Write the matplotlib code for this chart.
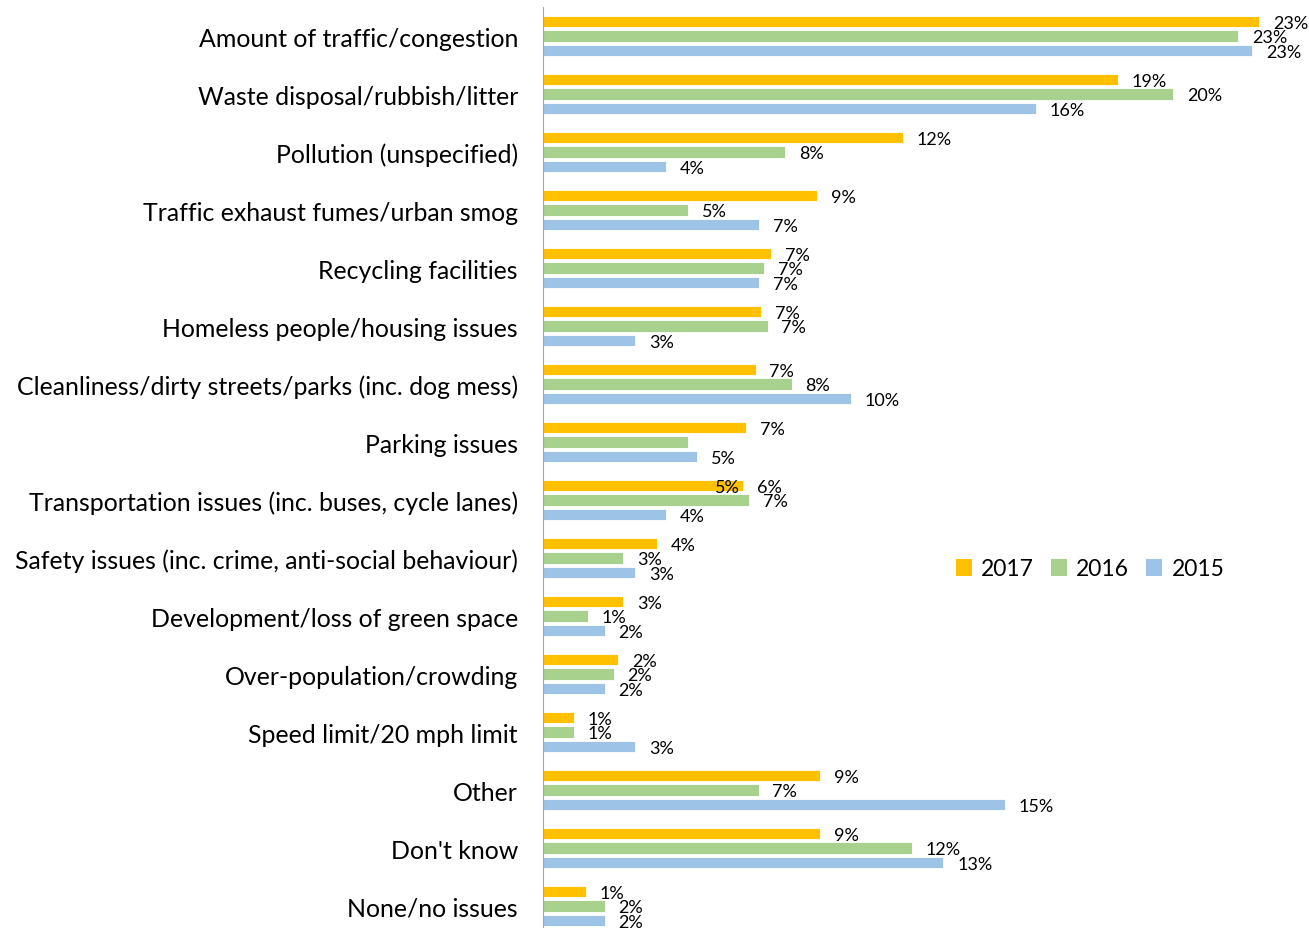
import numpy as np
import matplotlib.pyplot as plt
from matplotlib.patches import Patch

plt.rcParams['font.family'] = ['Lato', 'DejaVu Sans']

categories = [
    'Amount of traffic/congestion',
    'Waste disposal/rubbish/litter',
    'Pollution (unspecified)',
    'Traffic exhaust fumes/urban smog',
    'Recycling facilities',
    'Homeless people/housing issues',
    'Cleanliness/dirty streets/parks (inc. dog mess)',
    'Parking issues',
    'Transportation issues (inc. buses, cycle lanes)',
    'Safety issues (inc. crime, anti-social behaviour)',
    'Development/loss of green space',
    'Over-population/crowding',
    'Speed limit/20 mph limit',
    'Other',
    "Don't know",
    'None/no issues',
]
y2017 = [23.25, 18.67, 11.69, 8.9, 7.39, 7.09, 6.9, 6.59, 6.49, 3.7, 2.6, 2.45, 1.0, 8.99, 9.0, 1.4]
y2016 = [22.56, 20.45, 7.86, 4.71, 7.19, 7.29, 8.07, 4.71, 6.69, 2.6, 1.45, 2.29, 1.0, 7.0, 11.98, 2.0]
y2015 = [23.02, 16.0, 3.99, 7.01, 7.01, 3.0, 10.0, 5.0, 4.0, 3.0, 2.0, 2.0, 3.0, 15.0, 13.0, 2.0]

years = ['2017', '2016', '2015']
series = [y2017, y2016, y2015]
colors = ['#FFC000', '#A9D18E', '#9DC3E6']

fig = plt.figure(figsize=(13.09, 9.29), dpi=100)
ax = fig.add_axes([543 / 1309, 0.0, 24.5 * 30.8 / 1309, 921 / 929])

n = len(categories)
pos = np.arange(n)
step = 0.253

for k, (vals, col) in enumerate(zip(series, colors)):
    yy = pos + (k - 1) * step
    ax.barh(yy, vals, height=0.2, color=col, edgecolor='white', linewidth=0.6)
    for i, (y, v) in enumerate(zip(yy, vals)):
        if k == 1 and i == 7:
            # Excel pushed this label up next to the 2017 transport bar
            ax.annotate(f'{round(v)}%', (y2017[8], 8 - step), xytext=(-2, -1),
                        textcoords='offset points', va='center', ha='right',
                        fontsize=13)
            continue
        ax.annotate(f'{round(v)}%', (v, y), xytext=(10, -1),
                    textcoords='offset points', va='center', ha='left',
                    fontsize=13)

ax.set_xlim(0, 24.5)
ax.set_ylim(n - 1 + 0.379, -0.5)
ax.set_yticks(pos)
ax.set_yticklabels(categories, fontsize=17.9)
ax.tick_params(axis='y', length=0, pad=18)
ax.set_xticks([])
for s in ['top', 'right', 'bottom']:
    ax.spines[s].set_visible(False)
ax.spines['left'].set_color('#A6A6A6')

handles = [Patch(facecolor=c, label=y) for c, y in zip(colors, years)]
fig.legend(handles=handles, loc='center', bbox_to_anchor=(1090 / 1309, 1 - 570 / 929),
           ncol=3, frameon=False, fontsize=16.5, handlelength=0.7, handleheight=0.7,
           handletextpad=0.4, columnspacing=0.75)

fig.savefig('out.png', dpi=100)
